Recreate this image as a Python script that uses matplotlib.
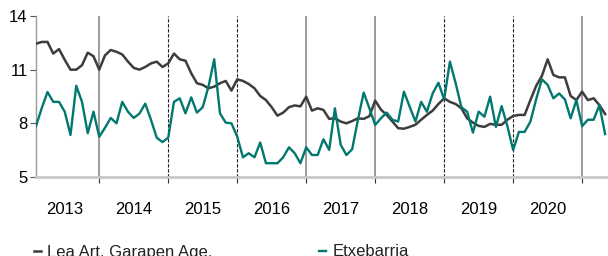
import matplotlib
matplotlib.use("Agg")
import matplotlib.pyplot as plt
import numpy as np

# Monthly data, Feb 2013 .. May 2021
lea = [12.45, 12.55, 12.55, 11.9, 12.15, 11.55, 11.0, 11.0, 11.25, 11.95, 11.75,
       11.0, 11.8, 12.1, 12.0, 11.85, 11.45, 11.1, 11.0, 11.15, 11.35, 11.45, 11.15,
       11.35, 11.9, 11.58, 11.5, 10.8, 10.24, 10.15, 9.96, 10.05, 10.24, 10.37, 9.83,
       10.46, 10.37, 10.2, 9.96, 9.53, 9.3, 8.9, 8.43, 8.6, 8.9, 9.0, 8.95,
       9.49, 8.71, 8.84, 8.75, 8.25, 8.28, 8.1, 8.0, 8.13, 8.28, 8.25, 8.4,
       9.27, 8.77, 8.47, 8.1, 7.73, 7.7, 7.8, 7.92, 8.2, 8.47, 8.71, 9.08,
       9.4, 9.2, 9.08, 8.84, 8.28, 8.04, 7.86, 7.8, 7.97, 7.92, 7.92, 8.2,
       8.41, 8.47, 8.47, 9.3, 10.09, 10.65, 11.58, 10.7, 10.57, 10.57, 9.53, 9.3,
       9.77, 9.3, 9.4, 9.02, 8.52]
etx = [7.85, 8.85, 9.75, 9.2, 9.2, 8.65, 7.35, 10.1, 9.2, 7.45, 8.65,
       7.25, 7.75, 8.3, 8.0, 9.2, 8.65, 8.3, 8.55, 9.1, 8.2, 7.2, 6.95,
       7.2, 9.2, 9.4, 8.56, 9.45, 8.6, 8.9, 10.05, 11.58, 8.56, 8.04, 8.0,
       7.26, 6.1, 6.33, 6.1, 6.93, 5.77, 5.77, 5.77, 6.1, 6.66, 6.33, 5.77,
       6.66, 6.23, 6.23, 7.11, 6.52, 8.84, 6.8, 6.23, 6.55, 8.2, 9.72, 8.84,
       7.91, 8.28, 8.6, 8.2, 8.1, 9.77, 8.93, 8.1, 9.2, 8.65, 9.67, 10.27,
       9.34, 11.45, 10.24, 8.9, 8.65, 7.48, 8.65, 8.37, 9.49, 7.8, 8.96, 7.84,
       6.51, 7.52, 7.52, 8.1, 9.34, 10.46, 10.15, 9.4, 9.67, 9.34, 8.28, 9.3,
       7.84, 8.2, 8.2, 9.02, 7.4]
years = ["2013", "2014", "2015", "2016", "2017", "2018", "2019", "2020"]
yticks = [5, 8, 11, 14]
series_names = ["Lea Art. Garapen Age.", "Etxebarria"]

dark = "#3d3d3d"
teal = "#007870"

fig = plt.figure(figsize=(6.08, 2.56), dpi=100)
ax = fig.add_axes([36/608, 1-177/256, 572/608, 161/256])
x = np.arange(len(lea))
ax.plot(x, lea, color=dark, lw=1.8, label=series_names[0], zorder=3)
ax.plot(x, etx, color=teal, lw=1.7, label=series_names[1], zorder=3)

ax.set_xlim(0, 99.5)
ax.set_ylim(5, 14)

# year boundaries (January of each following year)
bounds = [11 + 12*k for k in range(len(years))]
styles = ["solid", "dashed", "dashed", "solid", "solid", "dashed", "dashed", "solid"]
for b, s in zip(bounds, styles):
    if s == "solid":
        ax.axvline(b, color="#808080", lw=1.1, zorder=2)
    else:
        ax.axvline(b, color="#222222", lw=0.8, ls=(0, (3, 1.5)), zorder=2)

ax.set_xticks(bounds)
ax.set_xticklabels([])
ax.tick_params(axis="x", length=4, color="#333333", direction="out")
ax.set_xticks([b - 6 for b in bounds], minor=True)
ax.set_xticklabels(years, minor=True, fontsize=12, family="Liberation Sans")
ax.tick_params(axis="x", which="minor", length=0, pad=18)

ax.set_yticks(yticks)
ax.set_yticklabels([str(v) for v in yticks], fontsize=12, family="Liberation Sans")
ax.tick_params(axis="y", length=4, color="#555555", pad=2)

for s in ["top", "right"]:
    ax.spines[s].set_visible(False)
ax.spines["left"].set_color("#999999")
ax.spines["left"].set_linewidth(1.0)
ax.spines["bottom"].set_color("#c8c8c8")
ax.spines["bottom"].set_linewidth(2.0)

leg = fig.legend(loc="center left", bbox_to_anchor=(34/608, 1-252/256), ncol=2,
                 frameon=False, handlelength=0.4, handletextpad=0.4,
                 columnspacing=6.4, borderaxespad=0, borderpad=0,
                 prop={"family": "Liberation Sans", "size": 12})
for t in leg.get_texts():
    t.set_color("#222222")

fig.savefig("out.png", dpi=100)
